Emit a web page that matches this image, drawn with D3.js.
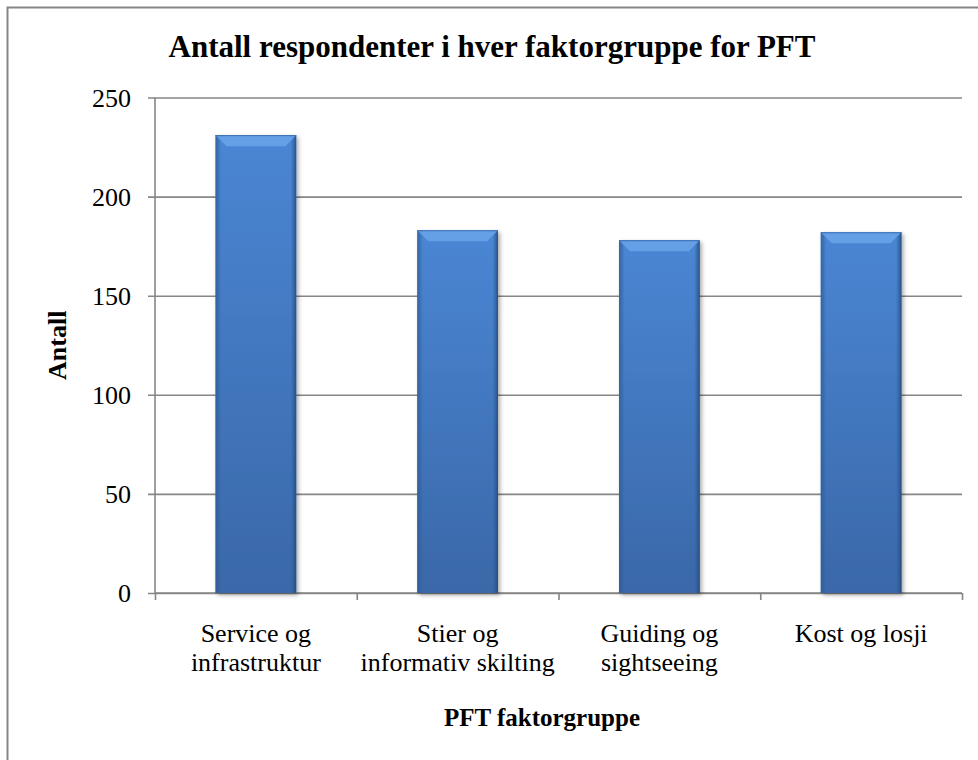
<!DOCTYPE html>
<html>
<head>
<meta charset="utf-8">
<script src="https://cdn.jsdelivr.net/npm/d3@7"></script>
<style>
  html, body { margin: 0; padding: 0; background: #fff; }
  svg { display: block; }
  text { font-family: "Liberation Serif", "Times New Roman", Times, serif; fill: #000; }
</style>
</head>
<body>
<script>
"use strict";

// Data

let categories = [
    ["Service og", "infrastruktur"],
    ["Stier og", "informativ skilting"],
    ["Guiding og", "sightseeing"],
    ["Kost og losji"]
];
let values = [231, 183, 178, 182];
let yTicks = [0, 50, 100, 150, 200, 250];

let titleText = "Antall respondenter i hver faktorgruppe for PFT";
let xTitle = "PFT faktorgruppe";
let yTitle = "Antall";

// Layout

let svgWidth = 978;
let svgHeight = 760;
let margin = {top: 97.5, right: 16, bottom: 167, left: 155};
let width = svgWidth - margin.left - margin.right;
let height = svgHeight - margin.top - margin.bottom;
let grey = "#868686";

let svg = d3.select("body")
    .append("svg")
    .attr("width", svgWidth)
    .attr("height", svgHeight);

let defs = svg.append("defs");

let grad = defs.append("linearGradient")
    .attr("id", "barFill")
    .attr("x1", 0).attr("y1", 0)
    .attr("x2", 0).attr("y2", 1);
grad.append("stop").attr("offset", "0%").attr("stop-color", "#4a86d4");
grad.append("stop").attr("offset", "100%").attr("stop-color", "#3a68a8");

let side = defs.append("linearGradient")
    .attr("id", "barSide")
    .attr("x1", 0).attr("y1", 0)
    .attr("x2", 1).attr("y2", 0);
side.append("stop").attr("offset", "0%").attr("stop-color", "#2d5b96").attr("stop-opacity", 0.8);
side.append("stop").attr("offset", "7%").attr("stop-color", "#2d5b96").attr("stop-opacity", 0);
side.append("stop").attr("offset", "93%").attr("stop-color", "#2d5b96").attr("stop-opacity", 0);
side.append("stop").attr("offset", "100%").attr("stop-color", "#24497a").attr("stop-opacity", 0.9);

let shadow = defs.append("filter")
    .attr("id", "shadow")
    .attr("x", "-20%").attr("y", "-10%")
    .attr("width", "140%").attr("height", "120%");
shadow.append("feDropShadow")
    .attr("dx", 2).attr("dy", 2)
    .attr("stdDeviation", 2)
    .attr("flood-color", "#000")
    .attr("flood-opacity", 0.35);

// Outer frame
svg.append("rect")
    .attr("x", 7.5)
    .attr("y", 7.5)
    .attr("width", svgWidth + 10)
    .attr("height", svgHeight + 10)
    .attr("fill", "none")
    .attr("stroke", grey)
    .attr("stroke-width", 2);

// Title
svg.append("text")
    .attr("x", 492)
    .attr("y", 57)
    .attr("text-anchor", "middle")
    .style("font-size", "31px")
    .style("font-weight", "bold")
    .text(titleText);

let g = svg.append("g")
    .attr("transform", `translate(${margin.left}, ${margin.top})`);

// Scales

let xScale = d3.scaleBand()
    .domain(d3.range(categories.length))
    .range([0, width])
    .paddingInner(0.6)
    .paddingOuter(0.3);

let xEdges = d3.scaleLinear()
    .domain([0, categories.length])
    .range([0, width]);

let yScale = d3.scaleLinear()
    .domain([0, 250])
    .range([height, 0]);

// Gridlines and y axis

let yAxis = d3.axisLeft(yScale)
    .tickValues(yTicks)
    .tickSize(-width)
    .tickPadding(24)
    .tickFormat(d3.format("d"));

let yg = g.append("g").call(yAxis);
yg.select(".domain").remove();
yg.selectAll(".tick line")
    .attr("x1", -7)
    .style("stroke", grey)
    .style("stroke-width", 1.6);
yg.selectAll(".tick text")
    .style("font-size", "26px")
    .attr("dy", "0.34em");

g.append("line")
    .attr("x1", 0).attr("x2", 0)
    .attr("y1", 0).attr("y2", height)
    .style("stroke", grey)
    .style("stroke-width", 1.6);

// x axis ticks at category edges
let xAxis = d3.axisBottom(xEdges)
    .tickValues(d3.range(categories.length + 1))
    .tickSize(7)
    .tickFormat("");

let xg = g.append("g")
    .attr("transform", `translate(0, ${height})`)
    .call(xAxis);
xg.select(".domain")
    .style("stroke", grey)
    .style("stroke-width", 1.6)
    .attr("d", `M0,0H${width}`);
xg.selectAll(".tick line")
    .style("stroke", grey)
    .style("stroke-width", 1.6);

// Bars

let bars = g.selectAll(".bar")
    .data(values)
    .enter()
    .append("g")
    .attr("class", "bar");

bars.append("rect")
    .attr("x", (d, i) => xScale(i))
    .attr("y", d => yScale(d))
    .attr("width", xScale.bandwidth())
    .attr("height", d => height - yScale(d))
    .attr("fill", "url(#barFill)")
    .attr("filter", "url(#shadow)");

bars.append("rect")
    .attr("x", (d, i) => xScale(i))
    .attr("y", d => yScale(d))
    .attr("width", xScale.bandwidth())
    .attr("height", d => height - yScale(d))
    .attr("fill", "url(#barSide)");

// top bevel
let bevel = 11;
bars.append("path")
    .attr("d", (d, i) => {
        let x0 = xScale(i), x1 = x0 + xScale.bandwidth(), y0 = yScale(d);
        return `M${x0},${y0}H${x1}L${x1 - bevel},${y0 + bevel}H${x0 + bevel}Z`;
    })
    .attr("fill", "#6aa5ea")
    .attr("opacity", 0.85);

bars.append("path")
    .attr("d", (d, i) => {
        let x0 = xScale(i), x1 = x0 + xScale.bandwidth(), y0 = yScale(d);
        return `M${x0},${y0 + 0.5}H${x1}`;
    })
    .attr("stroke", "#3b6eb0")
    .attr("stroke-width", 1);

// Category labels

let labels = g.selectAll(".cat")
    .data(categories)
    .enter()
    .append("text")
    .attr("class", "cat")
    .attr("text-anchor", "middle")
    .attr("transform", (d, i) => `translate(${xScale(i) + xScale.bandwidth() / 2}, ${height + 49})`)
    .style("font-size", "26px");

labels.selectAll("tspan")
    .data(d => d)
    .enter()
    .append("tspan")
    .attr("x", 0)
    .attr("dy", (d, i) => i === 0 ? 0 : 29)
    .text(d => d);

// Axis titles

svg.append("text")
    .attr("x", 542)
    .attr("y", 726)
    .attr("text-anchor", "middle")
    .style("font-size", "25px")
    .style("font-weight", "bold")
    .text(xTitle);

svg.append("text")
    .attr("transform", `translate(66, ${margin.top + height / 2}) rotate(-90)`)
    .attr("text-anchor", "middle")
    .style("font-size", "26px")
    .style("font-weight", "bold")
    .text(yTitle);
</script>
</body>
</html>
